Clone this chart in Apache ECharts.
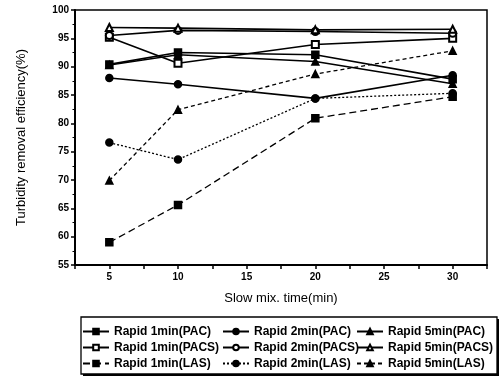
<!DOCTYPE html>
<html><head><meta charset="utf-8">
<script src="https://cdn.jsdelivr.net/npm/echarts@6/dist/echarts.min.js"></script>
<style>html,body{margin:0;padding:0;background:#fff}#c{width:502px;height:379px}</style>
</head><body><div id="c"></div>
<script>
const slowMixTime = [5, 10, 20, 30];
const pac1 = [90.4, 92.5, 92.1, 87.8];
const pac2 = [88.0, 86.9, 84.4, 88.5];
const pac5 = [90.3, 92.1, 90.9, 87.0];
const pacs1 = [95.2, 90.6, 93.9, 95.0];
const pacs2 = [95.5, 96.4, 96.2, 95.9];
const pacs5 = [96.9, 96.8, 96.5, 96.6];
const las1 = [59.0, 65.6, 80.9, 84.7];
const las2 = [76.6, 73.6, 84.4, 85.3];
const las5 = [69.9, 82.4, 88.7, 92.8];
const seriesNames = ['Rapid 1min(PAC)','Rapid 2min(PAC)','Rapid 5min(PAC)',
  'Rapid 1min(PACS)','Rapid 2min(PACS)','Rapid 5min(PACS)',
  'Rapid 1min(LAS)','Rapid 2min(LAS)','Rapid 5min(LAS)'];
const seriesValues = [pac1,pac2,pac5,pacs1,pacs2,pacs5,las1,las2,las5];
const symbols = ['rect','circle','triangle','emptyRect','emptyCircle','emptyTriangle','rect','circle','triangle'];
const lineTypes = ['solid','solid','solid','solid','solid','solid',[7,4],[2,2],[4,3]];

const chart = echarts.init(document.getElementById('c'));
const font = 'Liberation Sans, Arial, sans-serif';
const series = seriesNames.map((n,i)=>({
  name:n, type:'line',
  data: slowMixTime.map((x,j)=>[x, seriesValues[i][j]]),
  symbol: symbols[i], symbolSize: 7,
  lineStyle:{color:'#000', width: i<6?1.6:1.3, type: lineTypes[i]},
  itemStyle:{color:'#000', borderColor:'#000', borderWidth: 1.5},
  z: 3
}));
const legendLeft = [82, 222, 356];
const legends = [0,1,2].map(c=>({
  orient:'vertical', left: legendLeft[c], top: 325,
  itemWidth: 26, itemHeight: 7, itemGap: 3,
  data: [seriesNames[c], seriesNames[c+3], seriesNames[c+6]],
  textStyle:{fontFamily:font, fontSize:12, fontWeight:'bold', color:'#000', lineHeight:13, padding:[0,0,0,0]},
  padding: 0, selectedMode:false
}));
chart.setOption({
  animation:false,
  backgroundColor:'#fff',
  grid:{left:75, right:15, top:10, bottom:114, show:true, borderColor:'#000', borderWidth:1.5},
  xAxis:{type:'value', min:2.5, max:32.5, interval:2.5,
    name:'Slow mix. time(min)', nameLocation:'middle', nameGap:27,
    nameTextStyle:{fontFamily:font, fontSize:13, color:'#000'},
    axisLine:{lineStyle:{color:'#000', width:2}},
    axisTick:{show:true, length:4, lineStyle:{color:'#000', width:1.5}},
    axisLabel:{fontFamily:font, fontSize:10, fontWeight:'bold', color:'#000', margin:7,
      formatter:v=> (v%5===0 ? String(v) : '')},
    splitLine:{show:false}},
  yAxis:{type:'value', min:55, max:100, interval:5,
    name:'Turbidity removal efficiency(%)', nameLocation:'middle', nameGap:47,
    nameTextStyle:{fontFamily:font, fontSize:13, color:'#000'},
    axisLine:{lineStyle:{color:'#000', width:2}},
    axisTick:{show:true, length:4, lineStyle:{color:'#000', width:1.5}},
    minorTick:{show:true, splitNumber:2, length:2.5, lineStyle:{color:'#000', width:1}},
    axisLabel:{fontFamily:font, fontSize:10, fontWeight:'bold', color:'#000', margin:6},
    splitLine:{show:false}},
  legend: legends,
  graphic:[
    {type:'rect', shape:{x:81, y:317, width:416, height:57}, style:{fill:'none', stroke:'#000', lineWidth:1.3}, z:-1},
    {type:'polyline', shape:{points:[[83,375],[498,375],[498,319]]}, style:{fill:'none', stroke:'#000', lineWidth:2}, z:-1}
  ],
  series
});
</script></body></html>
